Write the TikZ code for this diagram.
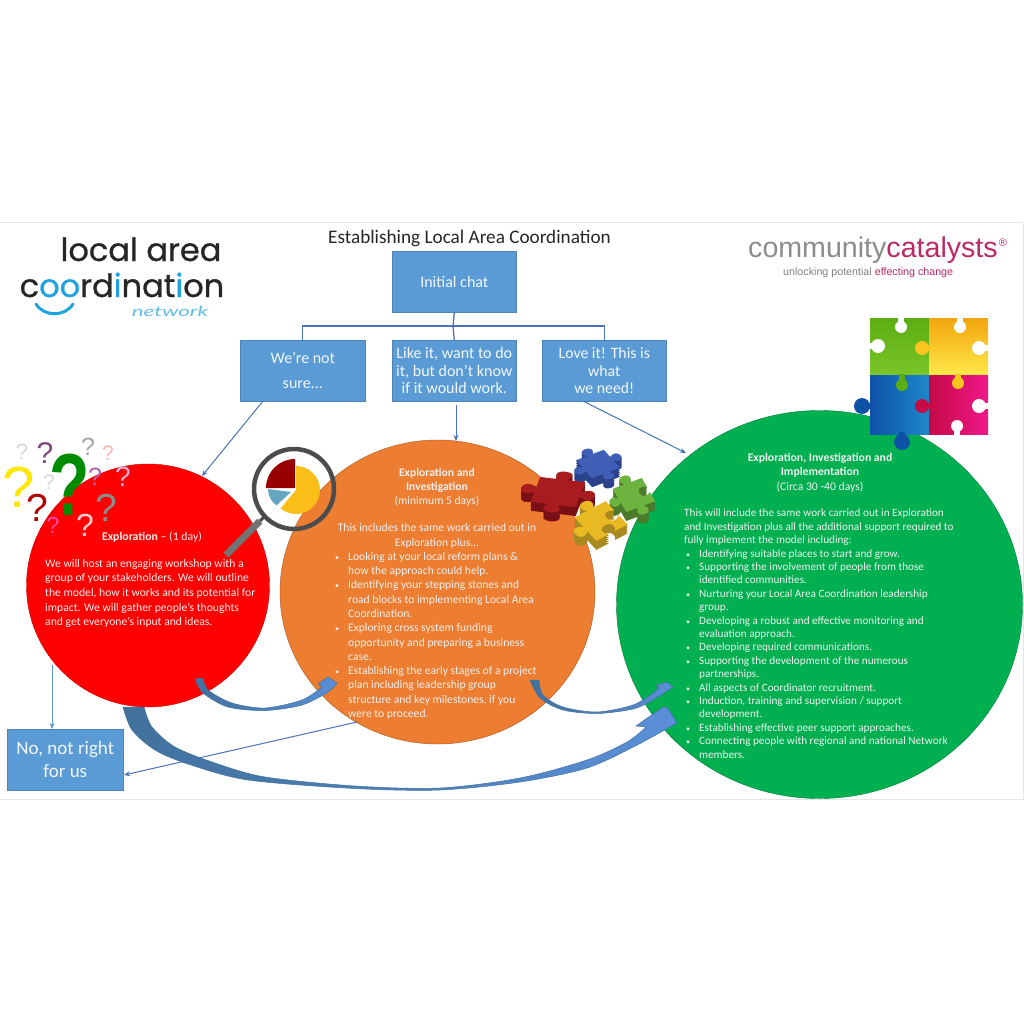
\documentclass[tikz,border=0pt]{standalone}
\usepackage{fontspec}
\setmainfont{Carlito}
\newfontfamily\logofont[FakeBold=0.7]{Poppins}
\newfontfamily\catfont{Liberation Sans}
\newfontfamily\netfont{Lato}
\newfontfamily\qfont{Liberation Sans}
\usetikzlibrary{arrows.meta}
\definecolor{boxblue}{HTML}{5B9BD5}
\definecolor{linkblue}{HTML}{4A72B8}
\definecolor{darkline}{HTML}{41719C}
\definecolor{arrowlight}{HTML}{5B8FD8}
\definecolor{cred}{HTML}{FF0000}
\definecolor{corange}{HTML}{ED7D31}
\definecolor{cgreen}{HTML}{00B050}
\definecolor{catmag}{HTML}{B92A66}
\definecolor{logoblue}{HTML}{1FA3DC}
\definecolor{pzgreen}{HTML}{5BAE12}
\definecolor{pzgreenb}{HTML}{7BC52A}
\definecolor{pzblue}{HTML}{0E52A8}
\definecolor{pzblueb}{HTML}{1E88C8}
\definecolor{pzred}{HTML}{C50A45}
\definecolor{pzpink}{HTML}{F0188A}
\definecolor{pzyel}{HTML}{FAC51C}
\definecolor{pzyelt}{HTML}{F2A50C}
\definecolor{pzyelb}{HTML}{FFE84A}
\definecolor{sblue}{HTML}{3E5FB5}
\definecolor{sblued}{HTML}{2A418C}
\definecolor{sgreen}{HTML}{6DB33F}
\definecolor{sgreend}{HTML}{4A7A2A}
\definecolor{sred}{HTML}{A81C20}
\definecolor{sredd}{HTML}{7A1015}
\definecolor{syel}{HTML}{E8B923}
\definecolor{syeld}{HTML}{A88A20}
\tikzset{
  stepbox/.style={draw=boxblue!85!black,line width=.6pt,fill=boxblue,text=white!92!boxblue,align=center,font=\fontsize{16}{25}\selectfont,anchor=north west,inner sep=0pt},
  treeline/.style={draw=linkblue,line width=1.3pt},
  thinarrow/.style={draw=linkblue,line width=1pt,-{Stealth[length=6pt,width=5pt]}},
  wtext/.style={text=white!94!black,align=left,font=\fontsize{11.6}{14.3}\selectfont,inner sep=0pt},
  gtext/.style={text=white!94!black,align=left,font=\fontsize{11.2}{13.4}\selectfont,inner sep=0pt},
  bigcurve/.style={draw=darkline,line width=.5pt,left color=darkline,right color=arrowlight},
  qm/.style={inner sep=0pt},
}
\newcommand{\bl}{\makebox[15pt][l]{\hspace{2pt}\scalebox{.7}{•}}}
\newcommand{\ct}{\hspace{15pt}}
\newcommand{\blo}{\makebox[15pt][l]{\hspace{2pt}\scalebox{.7}{•}}}
\newcommand{\cto}{\hspace{15pt}}
% jigsaw outline; the four arguments say tab (1) or notch (-1) on top, right, bottom, left
\newcommand{\jigpath}[4]{(-1,-1) -- (-.2,-1) .. controls (-.9,{-1-.85*#1}) and (.9,{-1-.85*#1}) .. (.2,-1) -- (1,-1) -- (1,-.2) .. controls ({1+.85*#2},-.9) and ({1+.85*#2},.9) .. (1,.2) -- (1,1) -- (.2,1) .. controls (.9,{1+.85*#3}) and (-.9,{1+.85*#3}) .. (-.2,1) -- (-1,1) -- (-1,.2) .. controls ({-1-.85*#4},.9) and ({-1-.85*#4},-.9) .. (-1,-.2) -- cycle}
% centre x, centre y, rotation, yscale, size, colour, dark colour, sides
\newcommand{\jig}[8]{%
\foreach \off in {9,7,5,3,1}{
 \fill[#7,shift={(#1,#2+\off)},yscale=#4,rotate=#3,scale=#5] \jigpath#8;
}
\fill[#6,shift={(#1,#2)},yscale=#4,rotate=#3,scale=#5] \jigpath#8;}
% round nub with a neck: colour, centre, radius, neck end
\newcommand{\nub}[4]{\fill[#1] (#2) circle (#3); \draw[#1,line width=6pt] (#2) -- (#4);}
\begin{document}
\begin{tikzpicture}[x=1pt,y=-1pt]
\useasboundingbox (0,0) rectangle (1024,1024);
\fill[white] (0,0) rectangle (1024,1024);
\draw[black!10,line width=1pt] (0,223) -- (1023,223) -- (1023,799) -- (0,799);

% discs
\fill[cgreen,draw=cgreen!70!black] (819.5,604.5) ellipse [x radius=203,y radius=194];
\fill[corange,draw=corange!70!black] (437.5,592) ellipse [x radius=157.5,y radius=152];
\fill[cred,draw=cred!80!black] (148,585.5) circle (121.5);

% title
\node[inner sep=0pt,font=\fontsize{19.2}{20}\selectfont,text=black!85] (title) at (469.5,238) {Establishing Local Area Coordination};

% logos
\node[inner sep=0pt,anchor=base,font=\logofont\fontsize{32}{32}\selectfont,text=black!85] (loc) at (141,261) {local area};
\node[inner sep=0pt,anchor=base,font=\logofont\fontsize{32}{32}\selectfont,text=black!85] (coo) at (122,297)
 {c\textcolor{logoblue}{oo}rd\textcolor{logoblue}{i}nat\textcolor{logoblue}{i}on};
\draw[logoblue,line width=3pt,line cap=round] (36,304) .. controls (44,317) and (65,317) .. (73,304);
\node[inner sep=0pt,xscale=1.6,font=\netfont\itshape\fontsize{14}{14}\selectfont,text=logoblue!70] (netw) at (170,311) {network};
\node[inner sep=0pt,anchor=base west,font=\catfont\fontsize{28.6}{30}\selectfont,text=black!45] (cat) at (748,257)
 {community\textcolor{catmag}{catalysts}};
\node[inner sep=0pt,font=\catfont\fontsize{11}{11}\selectfont,text=catmag] (reg) at (1003,243) {®};
\node[inner sep=0pt,anchor=base west,font=\catfont\fontsize{10.7}{12}\selectfont,text=black!50] (unl) at (783,275)
 {unlocking potential \textcolor{catmag}{effecting change}};

% boxes
\node[stepbox,minimum width=124pt,minimum height=61pt] (chat) at (392,251) {Initial chat};
\node[stepbox,minimum width=125pt,minimum height=61pt] (unsure) at (240,340) {We’re not\\sure...};
\node[stepbox,minimum width=124pt,minimum height=61pt,font=\fontsize{16}{17.4}\selectfont] (like) at (392,340) {Like it, want to do\\it, but don’t know\\if it would work.};
\node[stepbox,minimum width=124pt,minimum height=61pt,font=\fontsize{15.8}{17.4}\selectfont] (love) at (542,340) {Love it! This is\\what\\we need!};
\node[stepbox,minimum width=116pt,minimum height=61pt,font=\fontsize{19}{23.5}\selectfont] (no) at (7,728.5) {No, not right\\for us};

% tree
\coordinate (bus) at (453,326);
\draw[treeline] (chat.south) -- (bus);
\draw[treeline] (unsure.north) |- (bus) -| (love.north);
\draw[treeline] (bus) -- (like.north);

% thin arrows
\coordinate (a1) at (263,401); \coordinate (a1e) at (202,476);
\coordinate (a2) at (456,405); \coordinate (a2e) at (456,441);
\coordinate (a3) at (583,401); \coordinate (a3e) at (686,453);
\coordinate (a4) at (52,665);  \coordinate (a4e) at (52,729);
\coordinate (a5) at (357,722); \coordinate (a5e) at (124,775);
\draw[thinarrow] (a1) -- (a1e);
\draw[thinarrow] (a2) -- (a2e);
\draw[thinarrow] (a3) -- (a3e);
\draw[thinarrow,draw=boxblue] (a4) -- (a4e);

% curved block arrows
\path[bigcurve] plot[smooth] coordinates {(123,707) (132,730) (155,750) (188,764) (248,780) (355,788.5) (440,790) (520,782) (587,768) (637,745) (677,723)}
  -- (667,707) -- (663,707) -- (636,726) -- (646,727)
  -- plot[smooth] coordinates {(646,727) (627,742) (587,760) (520,778) (440,788) (355,786) (265,777) (215,763) (175,747) (152,727) (144,707)} -- cycle;
\path[bigcurve] plot[smooth] coordinates {(195,679) (203,693) (228,707) (265,710.5) (302,705) (328,692) (337,683)}
  -- (328,677) -- (318,684) -- (322,687)
  -- plot[smooth] coordinates {(322,687) (302,700) (265,708) (232,703) (208,690) (203,678)} -- cycle;
\path[bigcurve] plot[smooth] coordinates {(530,680) (540,698) (563,710) (597,713.5) (633,709) (653,700) (673,687)}
  -- (666,682) -- (655,686) -- (659,687)
  -- plot[smooth] coordinates {(659,687) (653,693) (633,705) (597,712) (563,707) (543,695) (539,680)} -- cycle;
\draw[thinarrow] (a5) -- (a5e);

% body text
\node[wtext,align=center,anchor=north,font=\fontsize{11.8}{14.15}\selectfont] (t1a) at (152,532) {\textbf{Exploration} – (1 day)};
\node[wtext,anchor=north west,font=\fontsize{11.65}{14.65}\selectfont] (t1b) at (45,559)
 {We will host an engaging workshop with a\\group of your stakeholders.  We will outline\\the model, how it works and its potential for\\impact.  We will gather people’s thoughts\\and get everyone’s input and ideas.};

\node[wtext,align=center,anchor=north] (t2a) at (437,468) {\textbf{Exploration and}\\\textbf{Investigation}\\(minimum 5 days)};
\node[wtext,align=center,anchor=north,font=\fontsize{11.6}{15}\selectfont] (t2b) at (437,523) {This includes the same work carried out in\\Exploration plus...};
\node[wtext,anchor=north west] (t2c) at (333,552)
 {\blo Looking at your local reform plans \&\\\cto how the approach could help.\\
  \blo Identifying your stepping stones and\\\cto road blocks to implementing Local Area\\\cto Coordination.\\
  \blo Exploring cross system funding\\\cto opportunity and  preparing a business\\\cto case.\\
  \blo Establishing the early stages of a project\\\cto plan including leadership group\\\cto structure and key milestones, if you\\\cto were to proceed.};

\node[wtext,align=center,anchor=north,font=\fontsize{11.7}{14.5}\selectfont] (t3a) at (820,453) {\textbf{Exploration, Investigation and}\\\textbf{Implementation}\\(Circa 30 -40 days)};
\node[gtext,anchor=north west] (t3b) at (684,509)
 {This will include the same work carried out in Exploration\\and Investigation plus all the additional support required to\\fully implement the model including:\\
  \bl Identifying suitable places to start and grow.\\
  \bl Supporting the involvement of people from those\\\ct identified communities.\\
  \bl Nurturing your Local Area Coordination leadership\\\ct group.\\
  \bl Developing a robust and effective monitoring and\\\ct evaluation approach.\\
  \bl Developing required communications.\\
  \bl Supporting the development of the numerous\\\ct partnerships.\\
  \bl All aspects of Coordinator recruitment.\\
  \bl Induction, training and supervision / support\\\ct development.\\
  \bl Establishing effective peer support approaches.\\
  \bl Connecting people with regional and national Network\\\ct members.};

% question marks
\foreach \px/\py/\sz/\cc/\nm in {
  22/452/22/black!15/q1, 45/453/30/violet!45!gray/q2, 88/447/25/black!35/q3, 108/453/21/red!30/q4,
  95/477/25/violet!60/q5, 123/477/28/violet!30/q6, 49/482/21/black!15/q7,
  19/487/58/yellow!90!orange/q8, 37/508/39/red!70!black/q9, 106/508/39/black!45/q10,
  85/525/32/red!20!white/q11, 53/525/23/magenta!70/q12}{
  \node[qm,text=\cc,font=\qfont\fontsize{\sz}{\sz}\selectfont] (\nm) at (\px,\py) {?};
}
\node[qm,xscale=.75,text=green!55!black,font=\qfont\bfseries\fontsize{88}{88}\selectfont] (qbig) at (70,485) {?};

% magnifier
\draw[black!70,line width=3pt] (266,515) -- (260,521);
\draw[black!55,line width=7pt] (260,521) -- (226,555);
\fill[pzyel!90!orange] (296,490) -- (296,466) arc[start angle=-90,end angle=130,radius=24] -- cycle;
\fill[cyan!50!gray] (291,492) -- (268,489) arc[start angle=180,end angle=125,radius=20] -- cycle;
\fill[red!60!black] (295,488) -- (266,488) arc[start angle=180,end angle=270,radius=29] -- cycle;
\draw[black!70,line width=4.5pt] (294,489) circle (40);

% big jigsaw
\shade[top color=pzgreen,bottom color=pzgreenb] (870,318) rectangle (929,375);
\shade[top color=pzyelt,bottom color=pzyelb] (929,318) rectangle (988,375);
\shade[left color=pzblue,right color=pzblueb] (870,375) rectangle (929,434);
\shade[left color=pzred,right color=pzpink] (929,375) rectangle (988,434);
\nub{pzblue}{862,406}{8}{872,406}
\nub{pzblue}{902,442}{8}{902,432}
\nub{pzgreen}{902,385}{6}{902,374}
\nub{pzyel}{958,383}{6}{958,374}
\nub{pzyel}{922,348}{7}{930,348}
\nub{pzred}{922,406}{7}{930,406}
\nub{white}{901,327}{6}{901,317}
\nub{white}{878,346}{7}{869,346}
\nub{white}{960,327}{6}{960,317}
\nub{white}{979,348}{7}{989,348}
\nub{white}{979,406}{7}{989,406}
\nub{white}{957,426}{6}{957,435}

% small jigsaw
\jig{598}{464}{30}{.65}{16}{sblue}{sblued}{{1}{1}{1}{1}}
\jig{634}{495}{25}{.8}{16}{sgreen}{sgreend}{{1}{-1}{1}{1}}
\jig{558}{492}{-12}{.55}{23}{sred}{sredd}{{1}{1}{1}{1}}
\jig{601}{521}{35}{.75}{19}{syel}{syeld}{{1}{-1}{-1}{1}}
\end{tikzpicture}
\end{document}
